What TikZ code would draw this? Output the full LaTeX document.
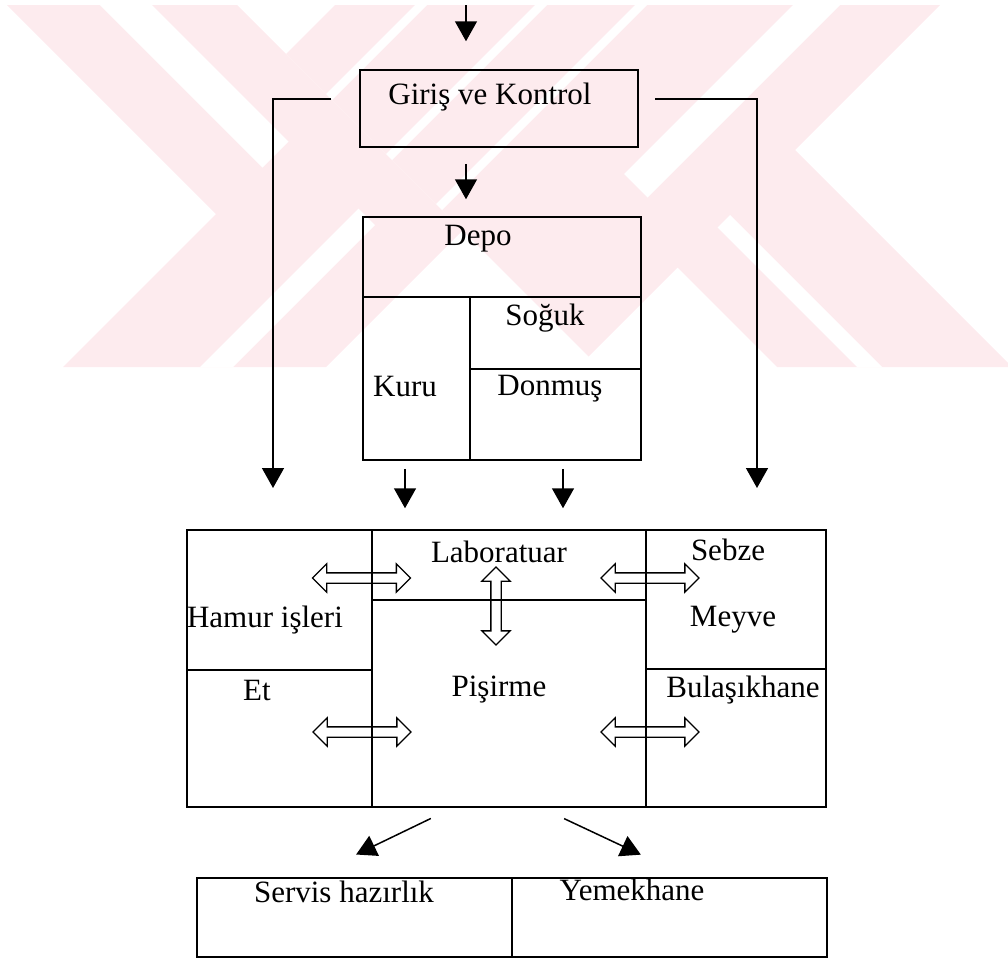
\documentclass[tikz,border=0pt]{standalone}
\usepackage{fontspec}
\setmainfont{Liberation Serif}
\usetikzlibrary{shapes.arrows,arrows.meta}

\definecolor{wmark}{RGB}{253,235,238}

\tikzset{
  room/.style={draw, line width=1.5pt, inner sep=0pt},
  wall/.style={line width=1.5pt},
  flow/.style={line width=1.5pt, -{Triangle[length=20pt,width=22pt]}},
  swap/.style={double arrow, draw, line width=1.3pt, inner sep=0pt,
    minimum height=98pt, double arrow head extend=9pt},
  lbl/.style={font=\fontsize{31}{36}\selectfont, inner sep=0pt}
}

\begin{document}
\begin{tikzpicture}[x=1pt, y=-1pt]
    \useasboundingbox (0,0) rectangle (1008,959);

    % Draw the faint background mark
    \begin{scope}
        \clip (0,5) rectangle (1008,367);
        \fill[wmark] (7,5) -- (237,5) -- (462.5,230.5) -- (326,367) -- (63,367) -- (216,214) -- cycle;
        \fill[wmark] (335,5) -- (940,5) -- (795,150) -- (1012,367) -- (777,367) -- (677.5,267.5)
            -- (588.5,356.5) -- (286,54) -- cycle;
        \fill[white] (100,5) -- (152,5) -- (288.5,141.5) -- (262.5,167.5) -- cycle;
        \fill[white] (200,367) -- (233,367) -- (375,225) -- (358.5,208.5) -- cycle;
        \fill[white] (793,5) -- (840,5) -- (647.5,197.5) -- (624,174) -- cycle;
        \fill[white] (717.5,227.5) -- (730,215) -- (882,367) -- (857,367) -- cycle;
        \foreach \s in {420,540,640} {
            \fill[white] (\s-5,5) -- (\s+7,5) -- ({(\s+244)/2},{(\s-220)/2}) -- ({(\s+232)/2},{(\s-232)/2}) -- cycle;
        }
    \end{scope}

    % Draw the entrance box
    \node[room, minimum width=278pt, minimum height=77pt] (giris) at (499,108.5) {};
    \node[lbl] (giris-t) at (490,97) {Giriş ve Kontrol};

    % Draw the store with its cells
    \node[room, minimum width=278pt, minimum height=243pt] (depo) at (502,338.5) {};
    \draw[wall] (363,297) -- (641,297) (470,297) -- (470,460) (470,369) -- (641,369);
    \node[lbl] (depo-t) at (478,239) {Depo};
    \node[lbl] (soguk-t) at (545,318) {Soğuk};
    \node[lbl] (kuru-t) at (405,386) {Kuru};
    \node[lbl] (donmus-t) at (550,389) {Donmuş};

    % Draw the kitchen with its rooms
    \node[room, minimum width=639pt, minimum height=277pt] (mutfak) at (506.5,668.5) {};
    \draw[wall] (372,530) -- (372,807) (646,530) -- (646,807) (372,600) -- (646,600)
        (187,670) -- (372,670) (646,669) -- (826,669);
    \node[lbl] (lab-t) at (499,552) {Laboratuar};
    \node[lbl] (sebze-t) at (728,550) {Sebze};
    \node[lbl] (hamur-t) at (265,620) {Hamur işleri};
    \node[lbl] (meyve-t) at (733,620) {Meyve};
    \node[lbl] (et-t) at (257,690) {Et};
    \node[lbl] (pisirme-t) at (499,690) {Pişirme};
    \node[lbl] (bulasik-t) at (743,690) {Bulaşıkhane};

    % Two way passages
    \node[swap] (ad1) at (361.5,578) {\rule{0pt}{9pt}};
    \node[swap] (ad2) at (362,732) {\rule{0pt}{9pt}};
    \node[swap] (ad3) at (650,578) {\rule{0pt}{9pt}};
    \node[swap] (ad4) at (650,732) {\rule{0pt}{9pt}};
    \node[swap, shape border rotate=90, minimum height=78pt] (ad5) at (496,606) {\rule{9pt}{0pt}};

    % Draw the service boxes
    \node[room, minimum width=315pt, minimum height=79pt] (servis) at (354.5,917.5) {};
    \node[room, minimum width=315pt, minimum height=79pt] (yemek) at (669.5,917.5) {};
    \node[lbl] (servis-t) at (344,892) {Servis hazırlık};
    \node[lbl] (yemek-t) at (632,890) {Yemekhane};

    % Flow arrows
    \coordinate (giris-in) at (466,5);
    \coordinate (gl) at (331,99);
    \coordinate (gla) at (273,488);
    \coordinate (gr) at (655,99);
    \coordinate (gra) at (757,488);
    \draw[flow, shorten >=28pt] (giris-in) -- (giris-in |- giris.north);
    \draw[flow, shorten <=16pt, shorten >=17pt] (giris.south -| giris-in) -- (depo.north -| giris-in);
    \draw[flow] (gl) -| (gla);
    \draw[flow] (gr) -| (gra);
    \draw[flow, shorten <=8pt, shorten >=21pt] ([xshift=-97pt]depo.south) -- ([xshift=-97pt]depo.south |- mutfak.north);
    \draw[flow, shorten <=8pt, shorten >=21pt] ([xshift=61pt]depo.south) -- ([xshift=61pt]depo.south |- mutfak.north);
    \draw[flow, shorten <=24.6pt, shorten >=52.3pt] ([xshift=-53.5pt]mutfak.south) -- ([xshift=-45.5pt]servis.north);
    \draw[flow, shorten <=25.5pt, shorten >=53.2pt] ([xshift=34.5pt]mutfak.south) -- ([xshift=19.5pt]yemek.north);

\end{tikzpicture}
\end{document}
